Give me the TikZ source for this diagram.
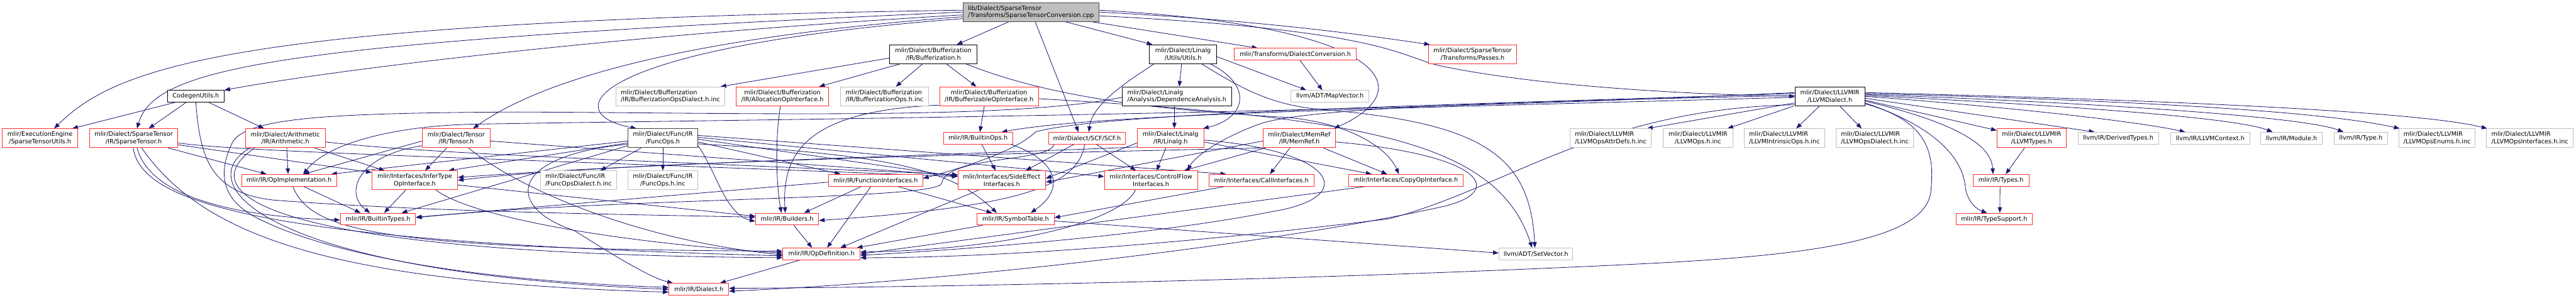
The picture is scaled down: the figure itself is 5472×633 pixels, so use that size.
\documentclass[tikz,border=0pt]{standalone}
\usepackage{fontspec}
\setmainfont{DejaVu Sans}
\usetikzlibrary{arrows.meta}
\definecolor{edgecol}{RGB}{25,25,112}
\definecolor{truncol}{RGB}{255,48,48}
\definecolor{extcol}{RGB}{191,191,191}
\definecolor{curfill}{RGB}{191,191,191}
\pgfdeclarelayer{edges}
\pgfsetlayers{edges,main}
\tikzset{
  file/.style={draw,rectangle,fill=white,inner xsep=3pt,inner ysep=1pt,line width=1.3pt,align=center,font=\fontsize{13}{15}\selectfont},
  docf/.style={file,draw=black},
  redf/.style={file,draw=truncol},
  extf/.style={file,draw=extcol},
  curf/.style={file,draw=black!70,fill=curfill,align=left},
  sl/.style={minimum height=25pt},
  dl/.style={minimum height=40pt},
  dep/.style={draw=edgecol,line width=1.1pt,-{Triangle[length=12pt,width=9pt]}},
}

\begin{document}
\begin{tikzpicture}[x=1pt,y=-1pt]
  \useasboundingbox (0,0) rectangle (5472,633);
  \node[curf,dl,minimum width=288pt] (root) at (2190,25.6) {lib/Dialect/SparseTensor\\/Transforms/SparseTensorConversion.cpp};
  \node[docf,dl,minimum width=185pt] (bufz) at (1982.5,115.3) {mlir/Dialect/Bufferization\\/IR/Bufferization.h};
  \node[docf,dl,minimum width=142pt] (lutils) at (2513,115.3) {mlir/Dialect/Linalg\\/Utils/Utils.h};
  \node[redf,sl,minimum width=259pt] (dconv) at (2751.5,115.3) {mlir/Transforms/DialectConversion.h};
  \node[redf,dl,minimum width=188pt] (passes) at (3128,115.3) {mlir/Dialect/SparseTensor\\/Transforms/Passes.h};
  \node[docf,sl,minimum width=120pt] (cgu) at (416,204.7) {CodegenUtils.h};
  \node[extf,dl,minimum width=232pt,align=left] (bodinc) at (1424,204.7) {mlir/Dialect/Bufferization\\/IR/BufferizationOpsDialect.h.inc};
  \node[redf,dl,minimum width=196pt] (allocif) at (1662,204.7) {mlir/Dialect/Bufferization\\/IR/AllocationOpInterface.h};
  \node[extf,dl,minimum width=186pt,align=left] (bopsinc) at (1879,204.7) {mlir/Dialect/Bufferization\\/IR/BufferizationOps.h.inc};
  \node[redf,dl,minimum width=210pt] (bufif) at (2101,204.7) {mlir/Dialect/Bufferization\\/IR/BufferizableOpInterface.h};
  \node[docf,dl,minimum width=232pt,align=left] (depan) at (2500,204.7) {mlir/Dialect/Linalg\\/Analysis/DependenceAnalysis.h};
  \node[extf,sl,minimum width=166pt] (mapvec) at (2825,204.7) {llvm/ADT/MapVector.h};
  \node[docf,dl,minimum width=148pt] (llvmd) at (3887,204.7) {mlir/Dialect/LLVMIR\\/LLVMDialect.h};
  \node[redf,dl,minimum width=160pt] (seu) at (85,293.7) {mlir/ExecutionEngine\\/SparseTensorUtils.h};
  \node[redf,dl,minimum width=188pt] (stensor) at (284,293.7) {mlir/Dialect/SparseTensor\\/IR/SparseTensor.h};
  \node[redf,dl,minimum width=170pt] (arith) at (606,293.7) {mlir/Dialect/Arithmetic\\/IR/Arithmetic.h};
  \node[redf,dl,minimum width=144pt] (tensor) at (969,293.7) {mlir/Dialect/Tensor\\/IR/Tensor.h};
  \node[docf,dl,minimum width=148pt,draw=black!75] (funcops) at (1408,293.7) {mlir/Dialect/Func/IR\\/FuncOps.h};
  \node[redf,sl,minimum width=147pt] (bops) at (2077.5,293.7) {mlir/IR/BuiltinOps.h};
  \node[redf,sl,minimum width=164pt] (scf) at (2309,293.7) {mlir/Dialect/SCF/SCF.h};
  \node[redf,dl,minimum width=141pt] (linalg) at (2486.5,293.7) {mlir/Dialect/Linalg\\/IR/Linalg.h};
  \node[redf,dl,minimum width=154pt] (memref) at (2760,293.7) {mlir/Dialect/MemRef\\/IR/MemRef.h};
  \node[extf,dl,minimum width=173pt,align=left] (attrdefs) at (3421.5,293.7) {mlir/Dialect/LLVMIR\\/LLVMOpsAttrDefs.h.inc};
  \node[extf,dl,minimum width=148pt] (llvmopsinc) at (3607,293.7) {mlir/Dialect/LLVMIR\\/LLVMOps.h.inc};
  \node[extf,dl,minimum width=171pt,align=left] (intrinsinc) at (3790.5,293.7) {mlir/Dialect/LLVMIR\\/LLVMIntrinsicOps.h.inc};
  \node[extf,dl,minimum width=165pt,align=left] (opsdialinc) at (3982.5,293.7) {mlir/Dialect/LLVMIR\\/LLVMOpsDialect.h.inc};
  \node[redf,dl,minimum width=147pt] (llvmtypes) at (4315.5,293.7) {mlir/Dialect/LLVMIR\\/LLVMTypes.h};
  \node[extf,sl,minimum width=171pt] (derived) at (4499.5,293.7) {llvm/IR/DerivedTypes.h};
  \node[extf,sl,minimum width=168pt] (llvmctx) at (4695,293.7) {llvm/IR/LLVMContext.h};
  \node[extf,sl,minimum width=131pt] (module) at (4867.5,293.7) {llvm/IR/Module.h};
  \node[extf,sl,minimum width=114pt] (irtype) at (5015,293.7) {llvm/IR/Type.h};
  \node[extf,dl,minimum width=162pt,align=left] (enums) at (5177,293.7) {mlir/Dialect/LLVMIR\\/LLVMOpsEnums.h.inc};
  \node[extf,dl,minimum width=184pt,align=left] (ifaces) at (5374,293.7) {mlir/Dialect/LLVMIR\\/LLVMOpsInterfaces.h.inc};
  \node[redf,sl,minimum width=202pt] (opimpl) at (614,383.1) {mlir/IR/OpImplementation.h};
  \node[redf,dl,minimum width=182pt] (infer) at (881,383.1) {mlir/Interfaces/InferType\\OpInterface.h};
  \node[extf,dl,minimum width=162pt,align=left] (fdialinc) at (1229,383.1) {mlir/Dialect/Func/IR\\/FuncOpsDialect.h.inc};
  \node[extf,dl,minimum width=148pt] (fopsinc) at (1408,383.1) {mlir/Dialect/Func/IR\\/FuncOps.h.inc};
  \node[redf,sl,minimum width=200pt] (funcif) at (1860,383.1) {mlir/IR/FunctionInterfaces.h};
  \node[redf,dl,minimum width=186pt] (sideeff) at (2128,383.1) {mlir/Interfaces/SideEffect\\Interfaces.h};
  \node[redf,dl,minimum width=198pt] (cflow) at (2445,383.1) {mlir/Interfaces/ControlFlow\\Interfaces.h};
  \node[redf,sl,minimum width=223pt] (callif) at (2679.5,383.1) {mlir/Interfaces/CallInterfaces.h};
  \node[redf,sl,minimum width=243pt] (copyif) at (2986.5,383.1) {mlir/Interfaces/CopyOpInterface.h};
  \node[redf,sl,minimum width=119pt] (types) at (4250.5,383.1) {mlir/IR/Types.h};
  \node[redf,sl,minimum width=160pt] (btypes) at (803,465.5) {mlir/IR/BuiltinTypes.h};
  \node[redf,sl,minimum width=134pt] (builders) at (1672,465.5) {mlir/IR/Builders.h};
  \node[redf,sl,minimum width=163pt] (symtab) at (2157.5,465.5) {mlir/IR/SymbolTable.h};
  \node[redf,sl,minimum width=162pt] (tsupp) at (4236,465.5) {mlir/IR/TypeSupport.h};
  \node[redf,sl,minimum width=164pt] (opdef) at (1745,539.6) {mlir/IR/OpDefinition.h};
  \node[extf,sl,minimum width=157pt] (setvec) at (3262.5,539.6) {llvm/ADT/SetVector.h};
  \node[redf,sl,minimum width=127pt] (dialect) at (1484.5,614.7) {mlir/IR/Dialect.h};

  \begin{pgfonlayer}{edges}
  \draw[dep] ([yshift=-6pt]root.west) .. controls (1300,75) and (700,150) .. (cgu.north east);
  \draw[dep] ([yshift=4pt]root.west) .. controls (500,45) and (250,140) .. ([xshift=30pt]seu.north);
  \draw[dep] (root.west) .. controls (600,90) and (330,140) .. ([xshift=7pt]stensor.north);
  \draw[dep] ([yshift=-10pt]root.west) .. controls (1450,80) and (1150,170) .. ([xshift=36pt]tensor.north);
  \draw[dep] ([yshift=-14pt]root.west) .. controls (1250,100) and (1180,240) .. ([xshift=-56pt]funcops.north);
  \draw[dep] ([xshift=-47pt]root.south) -- ([xshift=50pt]bufz.north);
  \draw[dep] ([xshift=9pt]root.south) -- ([xshift=-18pt]scf.north);
  \draw[dep] ([xshift=73pt]root.south) -- ([xshift=-65pt]lutils.north);
  \draw[dep] ([xshift=129pt]root.south) -- ([xshift=-80pt]dconv.north);
  \draw[dep] ([yshift=4pt]root.east) .. controls (2950,55) and (3020,190) .. ([xshift=-4pt]memref.north east);
  \draw[dep] (root.east) .. controls (2700,45) and (2900,75) .. ([xshift=4pt]passes.north west);
  \draw[dep] ([yshift=-8pt]root.east) .. controls (2950,65) and (2970,120) .. (3060,140) .. controls (3250,180) and (3550,200) .. (llvmd.west);

  \draw[dep] ([xshift=-45pt]cgu.south) -- ([xshift=-12pt]seu.north east);
  \draw[dep] ([xshift=-21pt]cgu.south) -- ([xshift=32pt]stensor.north);
  \draw[dep] ([xshift=28pt]cgu.south) -- ([xshift=-45pt]arith.north);
  \draw[dep] (cgu.south) .. controls (425,340) and (450,410) .. (580,425) .. controls (900,450) and (1300,455) .. ([yshift=4pt]builders.west);

  \draw[dep] ([yshift=-8pt]bufz.west) -- ([xshift=-10pt]bodinc.north east);
  \draw[dep] ([xshift=-71pt]bufz.south) -- ([xshift=78pt]allocif.north);
  \draw[dep] ([xshift=-23pt]bufz.south) -- ([xshift=24pt]bopsinc.north);
  \draw[dep] ([xshift=28pt]bufz.south) -- ([xshift=-27pt]bufif.north);
  \draw[dep] ([xshift=70pt]bufz.south) .. controls (2250,215) and (2500,235) .. (2740,250) .. controls (2880,265) and (2950,320) .. ([xshift=-15pt]copyif.north);

  \draw[dep] ([xshift=-10pt]bufif.south) -- ([xshift=4pt]bops.north);
  \draw[dep] ([yshift=-5pt]bufif.east) .. controls (2900,250) and (3180,300) .. ([xshift=-8pt]setvec.north);
  \draw[dep] ([yshift=2pt]bufif.south west) .. controls (1720,235) and (1660,320) .. ([xshift=-4pt]builders.north);
  \draw[dep] ([xshift=-4pt]allocif.south) .. controls (1645,300) and (1650,400) .. ([xshift=-12pt]builders.north);

  \draw[dep] ([xshift=-62pt]lutils.south) .. controls (2400,170) and (2320,220) .. ([xshift=4pt]scf.north);
  \draw[dep] ([xshift=-3pt]lutils.south) -- ([xshift=5pt]depan.north);
  \draw[dep] ([yshift=-5pt]lutils.east) -- ([xshift=-50pt]mapvec.north);
  \draw[dep] ([xshift=58pt]lutils.south) .. controls (2660,180) and (2650,250) .. ([xshift=-2pt]linalg.north east);
  \draw[dep] ([xshift=40pt]lutils.south) .. controls (2640,190) and (2700,222) .. (2800,232) .. controls (3150,260) and (3250,330) .. ([xshift=-2pt]setvec.north);

  \draw[dep] ([xshift=-5pt]depan.south) -- ([xshift=8pt]linalg.north);
  \draw[dep] ([yshift=-2pt]depan.west) .. controls (2150,255) and (1600,240) .. (1100,238) .. controls (700,240) and (530,250) .. (495,300) .. controls (460,370) and (470,430) .. (560,470) .. controls (750,560) and (1100,600) .. ([yshift=4pt]dialect.west);
  \draw[dep] ([xshift=10pt]dconv.south) -- ([xshift=-16pt]mapvec.north);

  \draw[dep] ([xshift=-28pt]scf.south) -- ([xshift=51pt]sideeff.north);
  \draw[dep] ([xshift=20pt]scf.south) -- ([xshift=-32pt]cflow.north);
  \draw[dep] ([xshift=-5pt]scf.south) .. controls (2290,400) and (2150,440) .. ([yshift=-3pt]builders.east);
  \draw[dep] ([xshift=-70pt]scf.south) .. controls (2230,345) and (2010,330) .. (2000,390) .. controls (1990,425) and (1300,420) .. ([yshift=3pt]btypes.east);

  \draw[dep] ([xshift=-10pt]linalg.south) -- ([xshift=12pt]cflow.north);
  \draw[dep] ([yshift=-8pt]linalg.east) -- ([xshift=-73pt]copyif.north);
  \draw[dep] ([yshift=-10pt]linalg.west) -- ([yshift=4pt]sideeff.east);
  \draw[dep] ([yshift=2pt]linalg.south west) .. controls (2000,330) and (1400,345) .. ([yshift=6pt]infer.east);
  \draw[dep] ([yshift=-4pt]linalg.east) .. controls (2840,320) and (2890,420) .. (2700,450) .. controls (2450,500) and (2050,530) .. ([yshift=-3pt]opdef.east);

  \draw[dep] ([xshift=-20pt]memref.south) -- ([xshift=18pt]callif.north);
  \draw[dep] ([xshift=51pt]memref.south) -- ([xshift=-40pt]copyif.north);
  \draw[dep] ([xshift=-72pt]memref.south) -- ([xshift=70pt]cflow.north);
  \draw[dep] ([yshift=-6pt]memref.west) -- ([yshift=-4pt]sideeff.east);
  \draw[dep] (memref.south west) .. controls (2000,330) and (1300,345) .. ([yshift=0pt]infer.east);
  \draw[dep] ([yshift=-8pt]memref.east) .. controls (3160,330) and (3200,410) .. (3060,440) .. controls (2700,520) and (2000,600) .. ([yshift=-4pt]dialect.east);

  \draw[dep] ([xshift=-46pt]funcops.south) -- ([xshift=46pt]fdialinc.north);
  \draw[dep] (funcops.south) -- (fopsinc.north);
  \draw[dep] ([yshift=-8pt]funcops.east) -- ([xshift=26pt]funcif.north west);
  \draw[dep] ([yshift=-2pt]funcops.east) -- ([yshift=8pt]sideeff.west);
  \draw[dep] ([yshift=2pt]funcops.east) -- ([yshift=8pt]cflow.west);
  \draw[dep] ([yshift=6pt]funcops.east) -- ([xshift=-75pt]callif.north);
  \draw[dep] ([yshift=-12pt]funcops.east) .. controls (1900,330) and (2020,360) .. ([xshift=-40pt]symtab.north);
  \draw[dep] ([yshift=-16pt]funcops.east) .. controls (1520,360) and (1540,455) .. ([yshift=-5pt]builders.west);
  \draw[dep] ([yshift=-16pt]funcops.west) -- ([xshift=50pt]btypes.north);
  \draw[dep] ([yshift=-6pt]funcops.west) -- ([xshift=-12pt]opimpl.north east);
  \draw[dep] ([yshift=-10pt]funcops.west) -- ([xshift=-20pt]infer.north east);
  \draw[dep] ([yshift=-13pt]funcops.west) .. controls (1080,330) and (1070,440) .. (1220,490) .. controls (1300,540) and (1380,590) .. ([xshift=-55pt]dialect.north);

  \draw[dep] ([xshift=8pt]bops.south) -- ([xshift=-13pt]sideeff.north);
  \draw[dep] ([xshift=70pt]bops.south) .. controls (2245,340) and (2265,400) .. ([xshift=32pt]symtab.north);

  \draw[dep] ([xshift=-30pt]funcif.south) -- ([xshift=36pt]builders.north);
  \draw[dep] ([xshift=-10pt]funcif.south) -- ([xshift=12pt]opdef.north);
  \draw[dep] ([xshift=47pt]funcif.south) -- ([xshift=-50pt]symtab.north);
  \draw[dep] ([yshift=-4pt]funcif.west) -- ([yshift=4pt]btypes.east);
  \draw[dep] ([xshift=-49pt]sideeff.south) -- ([xshift=40pt]opdef.north);
  \draw[dep] ([xshift=-33pt]cflow.south) .. controls (2380,470) and (2150,530) .. ([yshift=4pt]opdef.east);
  \draw[dep] ([xshift=-78pt]callif.south) -- ([yshift=3pt]symtab.east);
  \draw[dep] ([xshift=-86pt]copyif.south) -- (opdef.east);

  \draw[dep] ([xshift=31pt]opimpl.south) -- ([xshift=-37pt]btypes.north);
  \draw[dep] ([xshift=8pt]opimpl.south) .. controls (660,490) and (800,530) .. ([yshift=6pt]opdef.west);
  \draw[dep] ([xshift=-19pt]infer.south) -- ([xshift=13pt]btypes.north);
  \draw[dep] ([xshift=45pt]infer.south) .. controls (1000,460) and (1300,515) .. ([yshift=2pt]opdef.west);
  \draw[dep] ([yshift=-10pt]infer.east) -- ([yshift=6pt]builders.west);

  \draw[dep] ([xshift=14pt]builders.south) -- ([xshift=-20pt]opdef.north);
  \draw[dep] ([xshift=-70pt]symtab.south) -- ([xshift=75pt]opdef.north);
  \draw[dep] ([yshift=-4pt]symtab.east) -- ([yshift=2pt]setvec.west);
  \draw[dep] ([xshift=-46pt]opdef.south) -- ([xshift=45pt]dialect.north);

  \draw[dep] ([yshift=-10pt]stensor.east) .. controls (500,322) and (1000,335) .. ([yshift=8pt]sideeff.west);
  \draw[dep] ([yshift=-14pt]stensor.east) -- ([yshift=-4pt]infer.north west);
  \draw[dep] ([xshift=73pt]stensor.south) -- ([xshift=-48pt]opimpl.north);
  \draw[dep] ([xshift=7pt]stensor.south) .. controls (320,420) and (500,460) .. ([yshift=-2pt]btypes.west);
  \draw[dep] ([xshift=-1pt]stensor.south) .. controls (300,440) and (600,515) .. ([yshift=-4pt]opdef.west);
  \draw[dep] ([xshift=17pt]stensor.south) .. controls (430,500) and (700,600) .. ([yshift=-6pt]dialect.west);

  \draw[dep] ([xshift=3pt]arith.south) -- ([xshift=-2pt]opimpl.north);
  \draw[dep] ([yshift=-8pt]arith.east) .. controls (900,325) and (1200,335) .. ([yshift=12pt]sideeff.west);
  \draw[dep] ([xshift=62pt]arith.south) -- ([xshift=-64pt]infer.north);
  \draw[dep] ([xshift=-75pt]arith.south) .. controls (400,390) and (560,580) .. (dialect.west);
  \draw[dep] ([xshift=-65pt]arith.south) .. controls (400,410) and (560,540) .. ([yshift=-8pt]opdef.west);

  \draw[dep] ([xshift=-20pt]tensor.south) -- ([xshift=22pt]infer.north);
  \draw[dep] ([yshift=-16pt]tensor.west) .. controls (760,330) and (730,410) .. ([xshift=-17pt]btypes.north);
  \draw[dep] ([yshift=-6pt]tensor.west) -- ([xshift=31pt]opimpl.north);
  \draw[dep] ([yshift=-6pt]tensor.east) -- ([yshift=10pt]sideeff.west);
  \draw[dep] ([xshift=26pt]tensor.south) .. controls (1100,400) and (1350,510) .. ([yshift=-2pt]opdef.west);

  \draw[dep] ([yshift=-14pt]llvmd.west) -- ([xshift=-10pt]attrdefs.north east);
  \draw[dep] ([xshift=-2pt]llvmd.south west) -- ([xshift=-12pt]llvmopsinc.north east);
  \draw[dep] ([xshift=-22pt]llvmd.south) -- ([xshift=25pt]intrinsinc.north);
  \draw[dep] ([xshift=21pt]llvmd.south) -- ([xshift=-28pt]opsdialinc.north);
  \draw[dep] ([yshift=-8pt]llvmd.east) -- ([yshift=-4pt]llvmtypes.north west);
  \draw[dep] ([yshift=-10pt]llvmd.east) .. controls (4130,255) and (4230,300) .. ([xshift=-17pt]types.north);
  \draw[dep] ([yshift=-14pt]llvmd.east) .. controls (4100,265) and (4170,330) .. (4175,400) .. controls (4180,430) and (4200,445) .. ([xshift=-15pt]tsupp.north);
  \draw[dep] ([yshift=-4pt]llvmd.east) -- ([xshift=-50pt]derived.north);
  \draw[dep] (llvmd.east) .. controls (4300,230) and (4550,260) .. ([xshift=-53pt]llvmctx.north);
  \draw[dep] ([yshift=2pt]llvmd.east) .. controls (4400,225) and (4750,250) .. ([xshift=-40pt]module.north);
  \draw[dep] ([yshift=4pt]llvmd.east) .. controls (4500,220) and (4900,250) .. ([xshift=-37pt]irtype.north);
  \draw[dep] ([yshift=6pt]llvmd.east) .. controls (4600,215) and (4950,240) .. ([xshift=2pt]enums.north west);
  \draw[dep] ([yshift=8pt]llvmd.east) .. controls (4700,215) and (5150,240) .. ([xshift=2pt]ifaces.north west);
  \draw[dep] ([yshift=-16pt]llvmd.east) .. controls (4090,255) and (4110,320) .. (4102,400) .. controls (4100,500) and (3900,540) .. (3500,560) .. controls (2800,595) and (2000,610) .. ([yshift=2pt]dialect.east);
  \draw[dep] ([yshift=-18pt]llvmd.west) .. controls (3400,230) and (3200,400) .. (2950,465) .. controls (2500,520) and (2100,548) .. ([yshift=-8pt]opdef.east);
  \draw[dep] ([yshift=-2pt]llvmd.west) .. controls (3000,230) and (2350,240) .. ([xshift=50pt]bops.north);
  \draw[dep] ([yshift=2pt]llvmd.west) .. controls (3300,215) and (2800,225) .. (2680,262) .. controls (2600,290) and (2540,330) .. ([xshift=77pt]cflow.north);
  \draw[dep] ([yshift=6pt]llvmd.west) .. controls (3000,225) and (2350,240) .. (2200,280) .. controls (2160,320) and (2050,355) .. ([yshift=4pt]funcif.east);
  \draw[dep] ([yshift=8pt]llvmd.west) .. controls (2800,245) and (1500,255) .. (1000,264) .. controls (850,268) and (700,300) .. ([xshift=30pt]opimpl.north);

  \draw[dep] ([xshift=-15pt]llvmtypes.south) -- ([xshift=10pt]types.north);
  \draw[dep] ([xshift=-2pt]types.south) -- ([xshift=12pt]tsupp.north);
  \end{pgfonlayer}
\end{tikzpicture}
\end{document}
